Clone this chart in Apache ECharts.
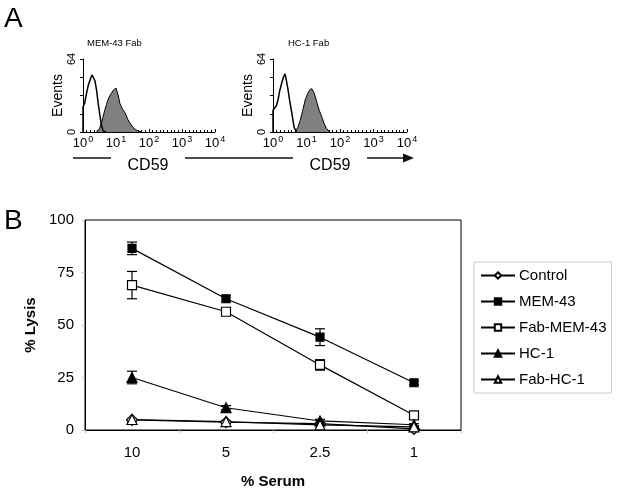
<!DOCTYPE html>
<html><head><meta charset="utf-8">
<script src="https://cdn.jsdelivr.net/npm/echarts/dist/echarts.min.js"></script>
<style>html,body{margin:0;padding:0;background:#fff}#c{width:618px;height:492px}</style>
</head><body><div id="c"></div><script>
// ---------- Panel B data ----------
const categories = ['10', '5', '2.5', '1'];
const control    = [4.8, 3.7, 3.0, 0.5];
const controlErr = [0.5, 0.4, 0.4, 0.3];
const mem43      = [86.5, 62.5, 44.2, 22.5];
const mem43Err   = [3, 1.5, 4, 1];
const fabMem43   = [69, 56.3, 31, 7];
const fabMem43Err= [6.5, 1.5, 2.5, 1];
const hc1        = [25, 10.6, 4.3, 2.5];
const hc1Err     = [3, 1, 0.8, 0.5];
const fabHc1     = [5, 4, 2.4, 1.5];
const fabHc1Err  = [0.5, 0.4, 0.4, 0.3];
const yTicks     = [0, 25, 50, 75, 100];

// ---------- Panel A data (log10 fluorescence, events) ----------
const histTicks  = [0, 1, 2, 3, 4];
const memOpenX = [0, 0, 0.05, 0.1, 0.16, 0.22, 0.27, 0.31, 0.36, 0.41, 0.46, 0.52, 0.56, 0.61, 0.7];
const memOpenY = [0, 22, 25, 33, 41, 46, 50, 51, 45, 37, 25, 13, 6, 1, 0];
const memFillX = [0.41, 0.5, 0.56, 0.63, 0.71, 0.78, 0.86, 0.93, 1.0, 1.06, 1.12, 1.2, 1.27, 1.36, 1.44, 1.52, 1.6, 1.67, 1.8];
const memFillY = [0, 3, 8, 16, 24, 30, 34, 37, 38.5, 33, 25, 20, 17, 11, 7, 4, 2, 1, 0];
const hcOpenX  = [0, 0, 0.05, 0.1, 0.15, 0.2, 0.26, 0.31, 0.36, 0.4, 0.45, 0.5, 0.56, 0.63, 0.7];
const hcOpenY  = [0, 19, 20, 23, 28, 36, 43, 48, 51, 45, 37, 27, 17, 4, 0];
const hcFillX  = [0.66, 0.74, 0.81, 0.88, 0.96, 1.04, 1.1, 1.16, 1.23, 1.31, 1.38, 1.46, 1.53, 1.6, 1.7];
const hcFillY  = [0, 4, 10, 18, 28, 34, 37, 38, 34, 26, 19, 13, 7, 3, 0];

const FONT = '"Liberation Sans", Arial, sans-serif';
const zip = (xs, ys) => xs.map((x, i) => [x, ys[i]]);
const errData = (vals, errs) => vals.map((v, i) => [i, v, errs[i]]);

function histX(gi) {
  return {
    type: 'value', gridIndex: gi, min: 0, max: 4, interval: 1,
    axisLine: { show: true, lineStyle: { color: '#000', width: 1 } },
    axisTick: { show: true, inside: true, length: 3, lineStyle: { color: '#000' } },
    minorTick: { show: true, splitNumber: 9, length: 2, lineStyle: { color: '#000' } },
    splitLine: { show: false },
    axisLabel: {
      margin: 3, color: '#000', fontFamily: FONT, fontSize: 13,
      formatter: v => '10{s|' + v + '}',
      rich: { s: { fontSize: 9, fontFamily: FONT, color: '#000', padding: [0, 0, 7, 1] } }
    }
  };
}
function histY(gi) {
  return {
    type: 'value', gridIndex: gi, min: 0, max: 64, interval: 16,
    name: 'Events', nameLocation: 'middle', nameGap: 16, nameRotate: 90,
    nameTextStyle: { fontFamily: FONT, fontSize: 14, color: '#000' },
    axisLine: { show: true, lineStyle: { color: '#000', width: 1 } },
    axisTick: { show: true, length: 3, lineStyle: { color: '#000' } },
    splitLine: { show: false },
    axisLabel: {
      rotate: 90, margin: 6, color: '#000', fontFamily: FONT, fontSize: 11,
      formatter: v => (v === 0 || v === 64) ? String(v) : ''
    }
  };
}

const errRender = (params, api) => {
  const x = api.value(0), y = api.value(1), e = api.value(2);
  const t = api.coord([x, y + e]), b = api.coord([x, y - e]);
  const w = 5;
  const st = { stroke: '#000', lineWidth: 1.2 };
  return { type: 'group', children: [
    { type: 'line', shape: { x1: t[0], y1: t[1], x2: b[0], y2: b[1] }, style: st },
    { type: 'line', shape: { x1: t[0] - w, y1: t[1], x2: t[0] + w, y2: t[1] }, style: st },
    { type: 'line', shape: { x1: b[0] - w, y1: b[1], x2: b[0] + w, y2: b[1] }, style: st }
  ]};
};
function errSeries(vals, errs) {
  return { type: 'custom', xAxisIndex: 2, yAxisIndex: 2, z: 1, silent: true,
    renderItem: errRender, data: errData(vals, errs) };
}
function lineSeries(name, data, symbol, fill, size) {
  return { type: 'line', name, data, xAxisIndex: 2, yAxisIndex: 2, z: 3,
    symbol, symbolSize: size, showAllSymbol: true,
    lineStyle: { color: '#000', width: 1.2 },
    itemStyle: { color: fill, borderColor: '#000', borderWidth: 1.2 },
    emphasis: { disabled: true } };
}

const option = {
  animation: false,
  backgroundColor: '#fff',
  textStyle: { fontFamily: FONT },
  title: [
    { text: 'A', left: 4, top: 5, padding: 0, textStyle: { fontSize: 28, fontWeight: 'normal', color: '#000', fontFamily: FONT } },
    { text: 'B', left: 4, top: 207, padding: 0, textStyle: { fontSize: 28, fontWeight: 'normal', color: '#000', fontFamily: FONT } },
    { text: 'MEM-43 Fab', left: 87, top: 38, padding: 0, textStyle: { fontSize: 9.5, fontWeight: 'normal', color: '#000', fontFamily: FONT } },
    { text: 'HC-1 Fab', left: 288, top: 38, padding: 0, textStyle: { fontSize: 9.5, fontWeight: 'normal', color: '#000', fontFamily: FONT } }
  ],
  grid: [
    { left: 83, top: 59, width: 132, height: 73, show: false },
    { left: 273, top: 59, width: 134, height: 73, show: false },
    { left: 85, top: 220, width: 376, height: 210, show: true, borderColor: '#000', borderWidth: 1, backgroundColor: 'transparent' }
  ],
  xAxis: [
    histX(0), histX(1),
    { type: 'category', gridIndex: 2, data: categories, boundaryGap: true,
      name: '% Serum', nameLocation: 'middle', nameGap: 44,
      nameTextStyle: { fontFamily: FONT, fontSize: 15, fontWeight: 'bold', color: '#000' },
      axisLine: { show: true, lineStyle: { color: '#000', width: 1 } },
      axisTick: { show: true, length: 3, lineStyle: { color: '#bbb' } },
      axisLabel: { margin: 15, color: '#000', fontFamily: FONT, fontSize: 15 } }
  ],
  yAxis: [
    histY(0), histY(1),
    { type: 'value', gridIndex: 2, min: 0, max: 100, interval: 25,
      name: '% Lysis', nameLocation: 'middle', nameGap: 47, nameRotate: 90,
      nameTextStyle: { fontFamily: FONT, fontSize: 15, fontWeight: 'bold', color: '#000' },
      axisLine: { show: true, lineStyle: { color: '#000', width: 1 } },
      axisTick: { show: true, length: 3, lineStyle: { color: '#bbb' } },
      splitLine: { show: false },
      axisLabel: { margin: 11, color: '#000', fontFamily: FONT, fontSize: 15,
        formatter: v => yTicks.includes(v) ? String(v) : '' } }
  ],
  legend: {
    orient: 'vertical', left: 474, top: 262,
    data: ['Control', 'MEM-43', 'Fab-MEM-43', 'HC-1', 'Fab-HC-1'],
    itemWidth: 34, itemHeight: 8, itemGap: 11,
    padding: [6, 5, 6, 6],
    borderColor: '#ccc', borderWidth: 1,
    textStyle: { fontFamily: FONT, fontSize: 15, color: '#000', padding: [0, 0, 0, -1] },
    selectedMode: false
  },
  graphic: [
    { type: 'line', shape: { x1: 73, y1: 158, x2: 111, y2: 158 }, style: { stroke: '#111', lineWidth: 1.6 } },
    { type: 'line', shape: { x1: 185, y1: 158, x2: 293, y2: 158 }, style: { stroke: '#111', lineWidth: 1.6 } },
    { type: 'line', shape: { x1: 367, y1: 158, x2: 404, y2: 158 }, style: { stroke: '#111', lineWidth: 1.6 } },
    { type: 'polygon', shape: { points: [[403, 153.5], [414, 158], [403, 162.5]] }, style: { fill: '#111' } },
    { type: 'text', x: 148, y: 166, style: { text: 'CD59', fontFamily: FONT, fontSize: 16, fill: '#000', textAlign: 'center', textVerticalAlign: 'middle' } },
    { type: 'text', x: 330, y: 166, style: { text: 'CD59', fontFamily: FONT, fontSize: 16, fill: '#000', textAlign: 'center', textVerticalAlign: 'middle' } }
  ],
  series: [
    { type: 'line', xAxisIndex: 0, yAxisIndex: 0, data: zip(memFillX, memFillY), symbol: 'none',
      lineStyle: { color: '#000', width: 1 }, areaStyle: { color: '#808080', opacity: 1 }, silent: true },
    { type: 'line', xAxisIndex: 0, yAxisIndex: 0, data: zip(memOpenX, memOpenY), symbol: 'none',
      lineStyle: { color: '#000', width: 1.5 }, silent: true },
    { type: 'line', xAxisIndex: 1, yAxisIndex: 1, data: zip(hcFillX, hcFillY), symbol: 'none',
      lineStyle: { color: '#000', width: 1 }, areaStyle: { color: '#808080', opacity: 1 }, silent: true },
    { type: 'line', xAxisIndex: 1, yAxisIndex: 1, data: zip(hcOpenX, hcOpenY), symbol: 'none',
      lineStyle: { color: '#000', width: 1.5 }, silent: true },
    errSeries(mem43, mem43Err),
    errSeries(fabMem43, fabMem43Err),
    errSeries(hc1, hc1Err),
    errSeries(control, controlErr),
    errSeries(fabHc1, fabHc1Err),
    lineSeries('Control', control, 'diamond', '#fff', 11),
    lineSeries('MEM-43', mem43, 'rect', '#000', 8),
    lineSeries('Fab-MEM-43', fabMem43, 'rect', '#fff', 9),
    lineSeries('HC-1', hc1, 'triangle', '#000', 10),
    lineSeries('Fab-HC-1', fabHc1, 'triangle', '#fff', 10)
  ]
};
const chart = echarts.init(document.getElementById('c'), null, { renderer: 'canvas' });
chart.setOption(option);
</script></body></html>
